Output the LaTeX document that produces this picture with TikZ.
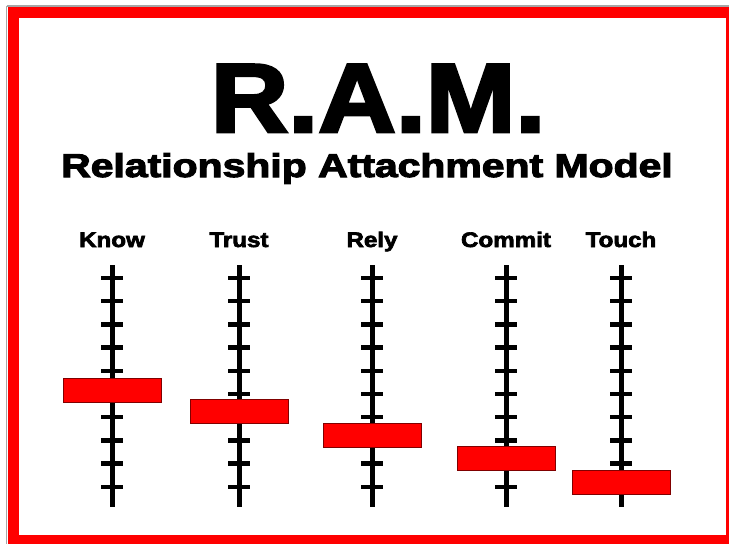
\documentclass[tikz,border=0pt]{standalone}
\usepackage{fontspec}
\usepackage{graphicx}
\newfontfamily\ramfont{Liberation Sans Bold}[FakeBold=3]
\tikzset{
  axisline/.style={line width=5pt,black},
  tickline/.style={line width=4.5pt,black},
  knob/.style={draw=red!50!black,line width=0.8pt,fill=red,minimum width=98pt,minimum height=24pt,inner sep=0pt},
  levelname/.style={anchor=base,inner sep=0pt,font=\ramfont\fontsize{21}{22}\selectfont}
}
\begin{document}
\begin{tikzpicture}
  [x=1pt,y=-1pt]
  \useasboundingbox (0,0) rectangle (729,544);
  \clip (0,0) rectangle (729,544);
  \fill[white] (0,0) rectangle (729,544);

  % frame
  \draw[gray!70,line width=1.5pt] (6.5,6) -- (6.5,544);
  \draw[gray!70,line width=1.5pt] (6.5,6) -- (729,6);
  \draw[red,line width=11pt] (13,12) rectangle (731,540);

  % titles
  \node[anchor=base,inner sep=0pt] (title) at (378,132)
    {\ramfont\fontsize{97.8}{100}\selectfont\scalebox{1.1}[1]{R.A.M.}};
  \node[anchor=base,inner sep=0pt] (subtitle) at (367,177)
    {\ramfont\fontsize{33}{35}\selectfont\scalebox{1.24}[1]{Relationship Attachment Model}};

  % the five scales
  \foreach \name/\xx/\yy in {Know/112/390,Trust/239/411.5,Rely/372/435,Commit/506/458.5,Touch/621/482}{
    \node[levelname] (\name-label) at (\xx,247) {\scalebox{1.15}[1]{\name}};
    \coordinate (\name-top) at (\xx,265);
    \coordinate (\name-bottom) at (\xx,507);
    \draw[axisline] (\name-top) -- (\name-bottom);
    \foreach \k in {0,...,9}
      \draw[tickline] ([xshift=-11pt,yshift=-278pt-23.2pt*\k]\name-top |- 0,0) -- ++(22,0);
    \node[knob] (\name-knob) at (\xx,\yy) {};
  }
\end{tikzpicture}
\end{document}
